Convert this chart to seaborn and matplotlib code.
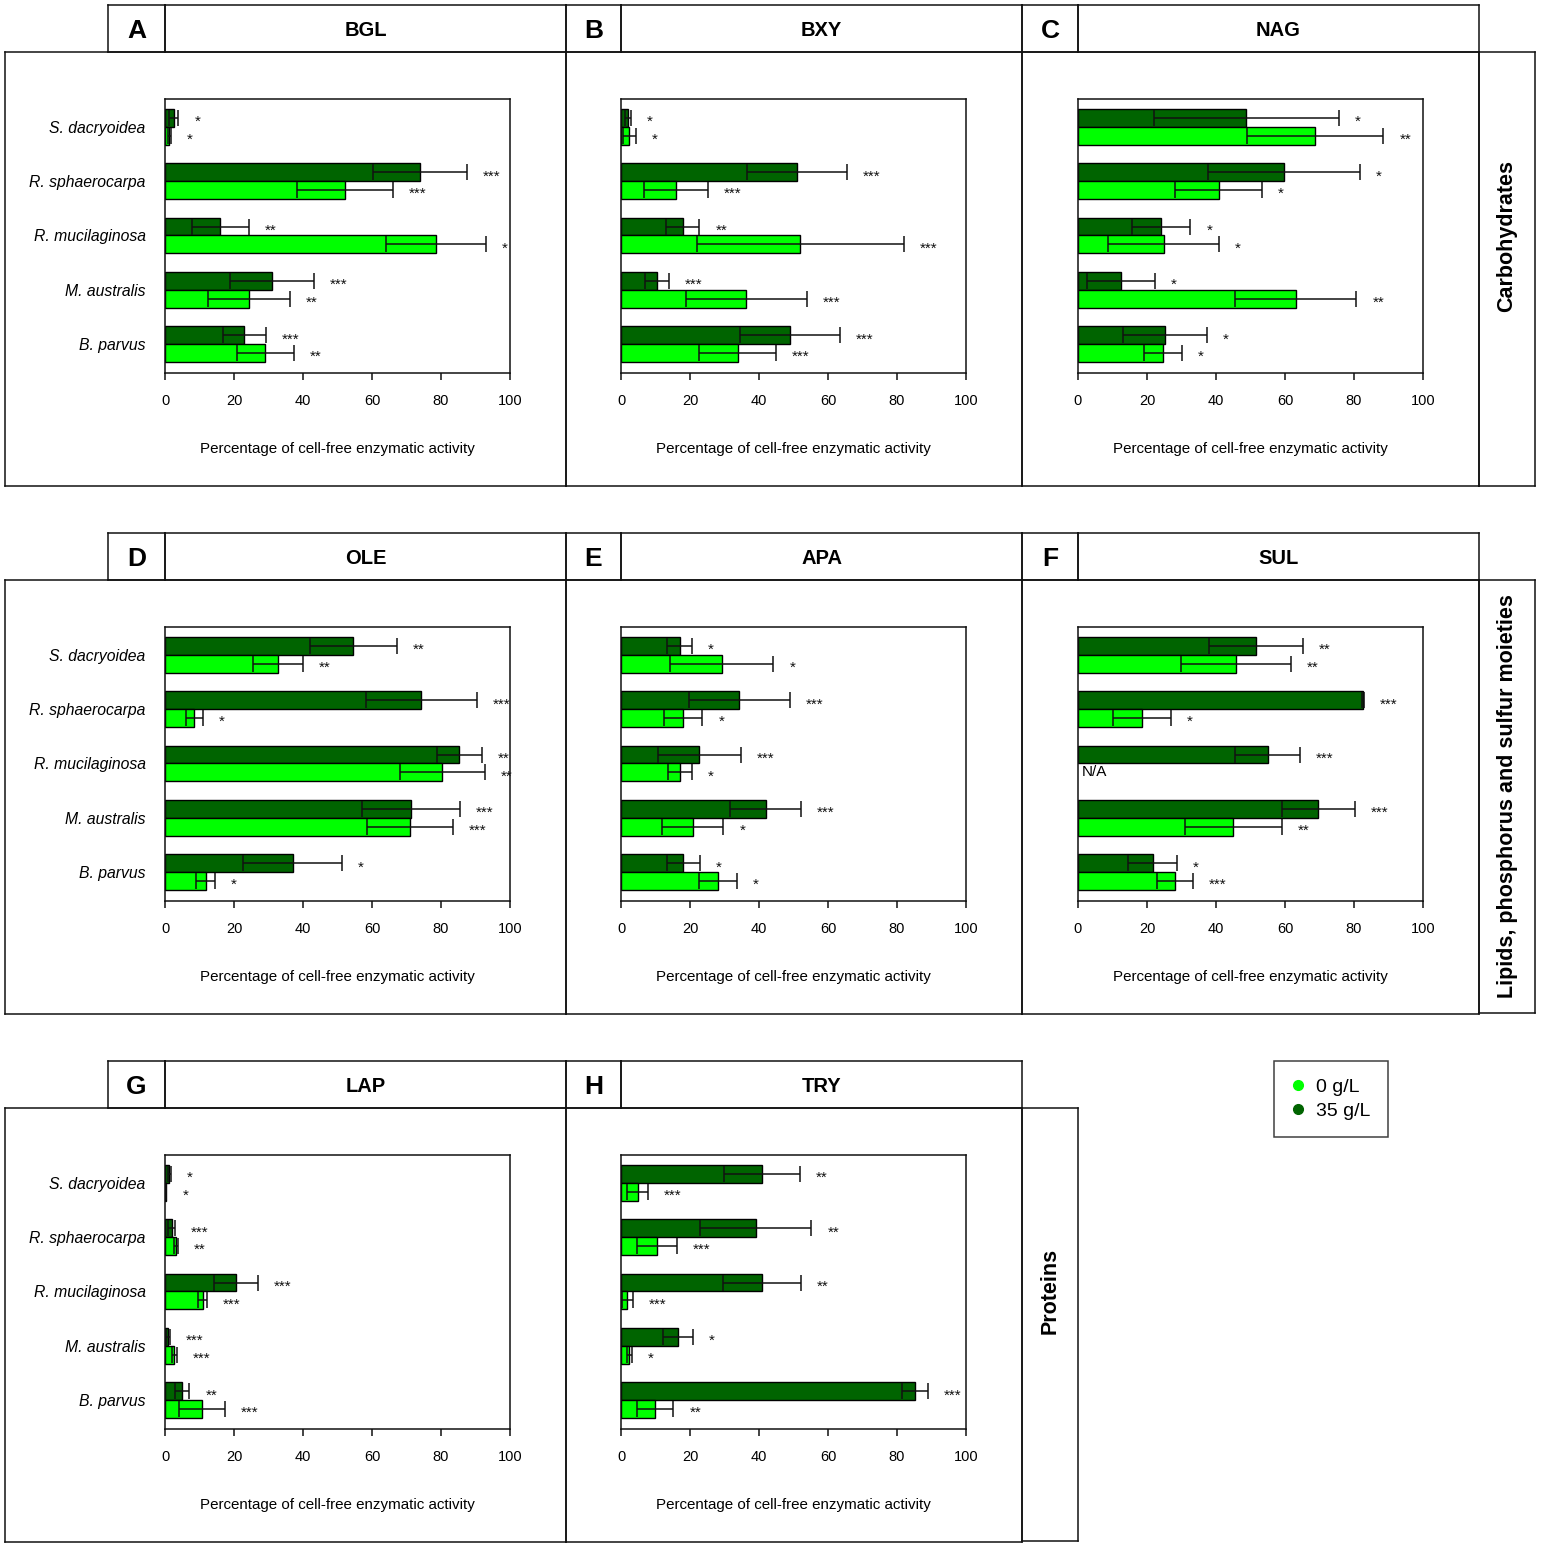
import numpy as np
import pandas as pd
import matplotlib
matplotlib.use("Agg")
import matplotlib.pyplot as plt
import seaborn as sns
from matplotlib.lines import Line2D

# ---- data (mean % cell-free activity, sd, significance) ----
species = ["S. dacryoidea", "R. sphaerocarpa", "R. mucilaginosa", "M. australis", "B. parvus"]
enzymes = ["BGL", "BXY", "NAG", "OLE", "APA", "SUL", "LAP", "TRY"]
letters = ["A", "B", "C", "D", "E", "F", "G", "H"]
groups = ["Carbohydrates", "Lipids, phosphorus and sulfur moieties", "Proteins"]
salinity = ["35 g/L", "0 g/L"]

bgl_35 = [2.5, 74.0, 16.0, 31.0, 23.0]
bgl_35_sd = [1.4, 13.6, 8.3, 12.2, 6.3]
bgl_0 = [1.3, 52.2, 78.5, 24.3, 29.1]
bgl_0_sd = [0.4, 13.8, 14.5, 11.9, 8.2]
bgl_sig_35 = ["*", "***", "**", "***", "***"]
bgl_sig_0 = ["*", "***", "*", "**", "**"]

bxy_35 = [2.1, 51.0, 17.9, 10.5, 48.9]
bxy_35_sd = [0.8, 14.5, 4.8, 3.4, 14.5]
bxy_0 = [2.4, 16.0, 52.0, 36.3, 33.8]
bxy_0_sd = [1.9, 9.2, 30.1, 17.5, 11.2]
bxy_sig_35 = ["*", "***", "**", "***", "***"]
bxy_sig_0 = ["*", "***", "***", "***", "***"]

nag_35 = [48.8, 59.7, 24.1, 12.5, 25.2]
nag_35_sd = [26.9, 21.9, 8.5, 9.9, 12.2]
nag_0 = [68.8, 40.8, 24.8, 63.1, 24.6]
nag_0_sd = [19.7, 12.6, 16.1, 17.6, 5.5]
nag_sig_35 = ["*", "*", "*", "*", "*"]
nag_sig_0 = ["**", "*", "*", "**", "*"]

ole_35 = [54.6, 74.3, 85.3, 71.3, 37.0]
ole_35_sd = [12.6, 16.0, 6.6, 14.2, 14.3]
ole_0 = [32.7, 8.5, 80.4, 71.0, 11.8]
ole_0_sd = [7.2, 2.4, 12.4, 12.5, 2.75]
ole_sig_35 = ["**", "***", "**", "***", "*"]
ole_sig_0 = ["**", "*", "**", "***", "*"]

apa_35 = [17.0, 34.3, 22.7, 41.9, 18.1]
apa_35_sd = [3.6, 14.7, 12.0, 10.3, 4.8]
apa_0 = [29.2, 18.1, 17.0, 20.8, 28.1]
apa_0_sd = [15.0, 5.5, 3.5, 8.9, 5.4]
apa_sig_35 = ["*", "***", "***", "***", "*"]
apa_sig_0 = ["*", "*", "*", "*", "*"]

sul_35 = [51.7, 82.5, 55.0, 69.7, 21.6]
sul_35_sd = [13.6, 0.3, 9.4, 10.5, 7.1]
sul_0 = [45.7, 18.5, np.nan, 45.0, 28.0]
sul_0_sd = [15.9, 8.4, np.nan, 14.0, 5.2]
sul_sig_35 = ["**", "***", "***", "***", "*"]
sul_sig_0 = ["**", "*", "", "**", "***"]

lap_35 = [1.3, 1.9, 20.6, 0.9, 5.0]
lap_35_sd = [0.3, 1.0, 6.3, 0.5, 2.05]
lap_0 = [0.2, 3.2, 10.9, 2.7, 10.7]
lap_0_sd = [0.2, 0.6, 1.3, 0.7, 6.55]
lap_sig_35 = ["*", "***", "***", "***", "**"]
lap_sig_0 = ["*", "**", "***", "***", "***"]

try_35 = [40.9, 39.1, 40.8, 16.5, 85.2]
try_35_sd = [11.0, 16.1, 11.3, 4.3, 3.7]
try_0 = [4.8, 10.4, 1.8, 2.4, 9.9]
try_0_sd = [3.1, 5.7, 1.6, 0.8, 5.3]
try_sig_35 = ["**", "**", "**", "*", "***"]
try_sig_0 = ["***", "***", "***", "*", "**"]

panel_data = [
    (bgl_35, bgl_35_sd, bgl_0, bgl_0_sd, bgl_sig_35, bgl_sig_0),
    (bxy_35, bxy_35_sd, bxy_0, bxy_0_sd, bxy_sig_35, bxy_sig_0),
    (nag_35, nag_35_sd, nag_0, nag_0_sd, nag_sig_35, nag_sig_0),
    (ole_35, ole_35_sd, ole_0, ole_0_sd, ole_sig_35, ole_sig_0),
    (apa_35, apa_35_sd, apa_0, apa_0_sd, apa_sig_35, apa_sig_0),
    (sul_35, sul_35_sd, sul_0, sul_0_sd, sul_sig_35, sul_sig_0),
    (lap_35, lap_35_sd, lap_0, lap_0_sd, lap_sig_35, lap_sig_0),
    (try_35, try_35_sd, try_0, try_0_sd, try_sig_35, try_sig_0),
]

colors = {"35 g/L": "#006400", "0 g/L": "#00FF00"}

sns.set_style("white")
plt.rcParams["font.family"] = ["Liberation Sans", "DejaVu Sans"]
plt.rcParams["text.color"] = "black"
plt.rcParams["axes.labelcolor"] = "black"
plt.rcParams["xtick.color"] = "black"
plt.rcParams["ytick.color"] = "black"

W, H = 1541, 1548
fig = plt.figure(figsize=(W / 100, H / 100), dpi=100)
LINE = "#111111"


def px_axes(x0, y0, x1, y1):
    return fig.add_axes([x0 / W, 1 - y1 / H, (x1 - x0) / W, (y1 - y0) / H])


def box(x0, y0, x1, y1, text=None, ty=0.5, **kw):
    a = px_axes(x0, y0, x1, y1)
    a.set_facecolor("none")
    a.set_xticks([])
    a.set_yticks([])
    for s in a.spines.values():
        s.set_color(LINE)
        s.set_linewidth(1.1)
    if text:
        a.text(0.5, ty, text, ha="center", va="center", transform=a.transAxes, **kw)
    return a


col_box = [(5, 566), (566, 1022), (1022, 1479)]
col_letter = [(108, 165), (566, 621), (1022, 1078)]
col_title = [(165, 566), (621, 1022), (1078, 1479)]
col_axes = [(165, 510), (621, 966), (1078, 1423)]
row_dy = 528

bar_w = 0.655

for k, enz in enumerate(enzymes):
    r, c = divmod(k, 3)
    dy = r * row_dy
    box(col_box[c][0], 52 + dy, col_box[c][1], 486 + dy)
    box(col_letter[c][0], 5 + dy, col_letter[c][1], 52 + dy, letters[k], ty=0.45,
        fontsize=19, fontweight="bold")
    box(col_title[c][0], 5 + dy, col_title[c][1], 52 + dy, enz, ty=0.45,
        fontsize=14.5, fontweight="bold")

    m35, s35, m0, s0, g35, g0 = panel_data[k]
    df = pd.DataFrame({
        "species": species * 2,
        "salinity": ["35 g/L"] * 5 + ["0 g/L"] * 5,
        "mean": m35 + m0,
        "sd": s35 + s0,
        "sig": g35 + g0,
    })

    ax = px_axes(col_axes[c][0], 99 + dy, col_axes[c][1], 373 + dy)
    sns.barplot(data=df, y="species", x="mean", hue="salinity", hue_order=salinity,
                order=species, palette=colors, orient="h", width=bar_w,
                saturation=1, edgecolor="black", linewidth=1.0, errorbar=None,
                legend=False, ax=ax)

    for j, sal in enumerate(salinity):
        sub = df[df["salinity"] == sal]
        pos = np.arange(len(species)) + (j - 0.5) * bar_w / 2
        ax.errorbar(sub["mean"], pos, xerr=sub["sd"], fmt="none", ecolor=LINE,
                    elinewidth=1.1, capsize=5.5, capthick=1.1, zorder=3)
        for p, mval, sval, sig in zip(pos, sub["mean"], sub["sd"], sub["sig"]):
            if np.isnan(mval):
                ax.text(1, p, "N/A", ha="left", va="center", fontsize=11)
                continue
            ax.annotate(sig, xy=(mval + sval, p), xytext=(11.5, -3),
                        textcoords="offset points", ha="left", va="center",
                        fontsize=11, color=LINE, annotation_clip=False)

    ax.set_xlim(0, 100)
    ax.set_ylim(4.5 + 0.03, -0.5 - 0.01)
    ax.set_xticks([0, 20, 40, 60, 80, 100])
    ax.tick_params(axis="x", length=5, width=1.1, pad=10, labelsize=10.5,
                   color=LINE, bottom=True)
    ax.tick_params(axis="y", length=0, pad=14)
    if c == 0:
        ax.set_yticklabels(species, fontsize=11.3, fontstyle="italic")
    else:
        ax.set_yticklabels([])
    ax.set_xlabel("")
    ax.set_ylabel("")
    for s in ax.spines.values():
        s.set_visible(True)
        s.set_color(LINE)
        s.set_linewidth(1.1)
    ax.text(0.5, -(449 - 373) / 274, "Percentage of cell-free enzymatic activity",
            transform=ax.transAxes, ha="center", va="center", fontsize=10.9)

# group strips
box(1479, 52, 1535, 486, groups[0], ty=0.577, rotation=90, fontsize=15.5, fontweight="bold")
box(1479, 580, 1535, 1013, groups[1], rotation=90, fontsize=15.5, fontweight="bold")
box(1022, 1108, 1078, 1541, groups[2], ty=0.577, rotation=90, fontsize=15.5, fontweight="bold")

# legend
handles = [Line2D([], [], marker="o", linestyle="none", markersize=7,
                  markerfacecolor=colors[s], markeredgecolor=colors[s])
           for s in ["0 g/L", "35 g/L"]]
leg = fig.legend(handles, ["0 g/L", "35 g/L"], loc="upper left",
                 bbox_to_anchor=(1274 / W, 1 - 1061 / H), borderaxespad=0,
                 frameon=True, fancybox=False, fontsize=14, handlelength=0.7,
                 handletextpad=0.55, labelspacing=0.3, borderpad=0.9)
leg.get_frame().set_edgecolor(LINE)
leg.get_frame().set_linewidth(1.1)

fig.savefig("out.png", dpi=100)
